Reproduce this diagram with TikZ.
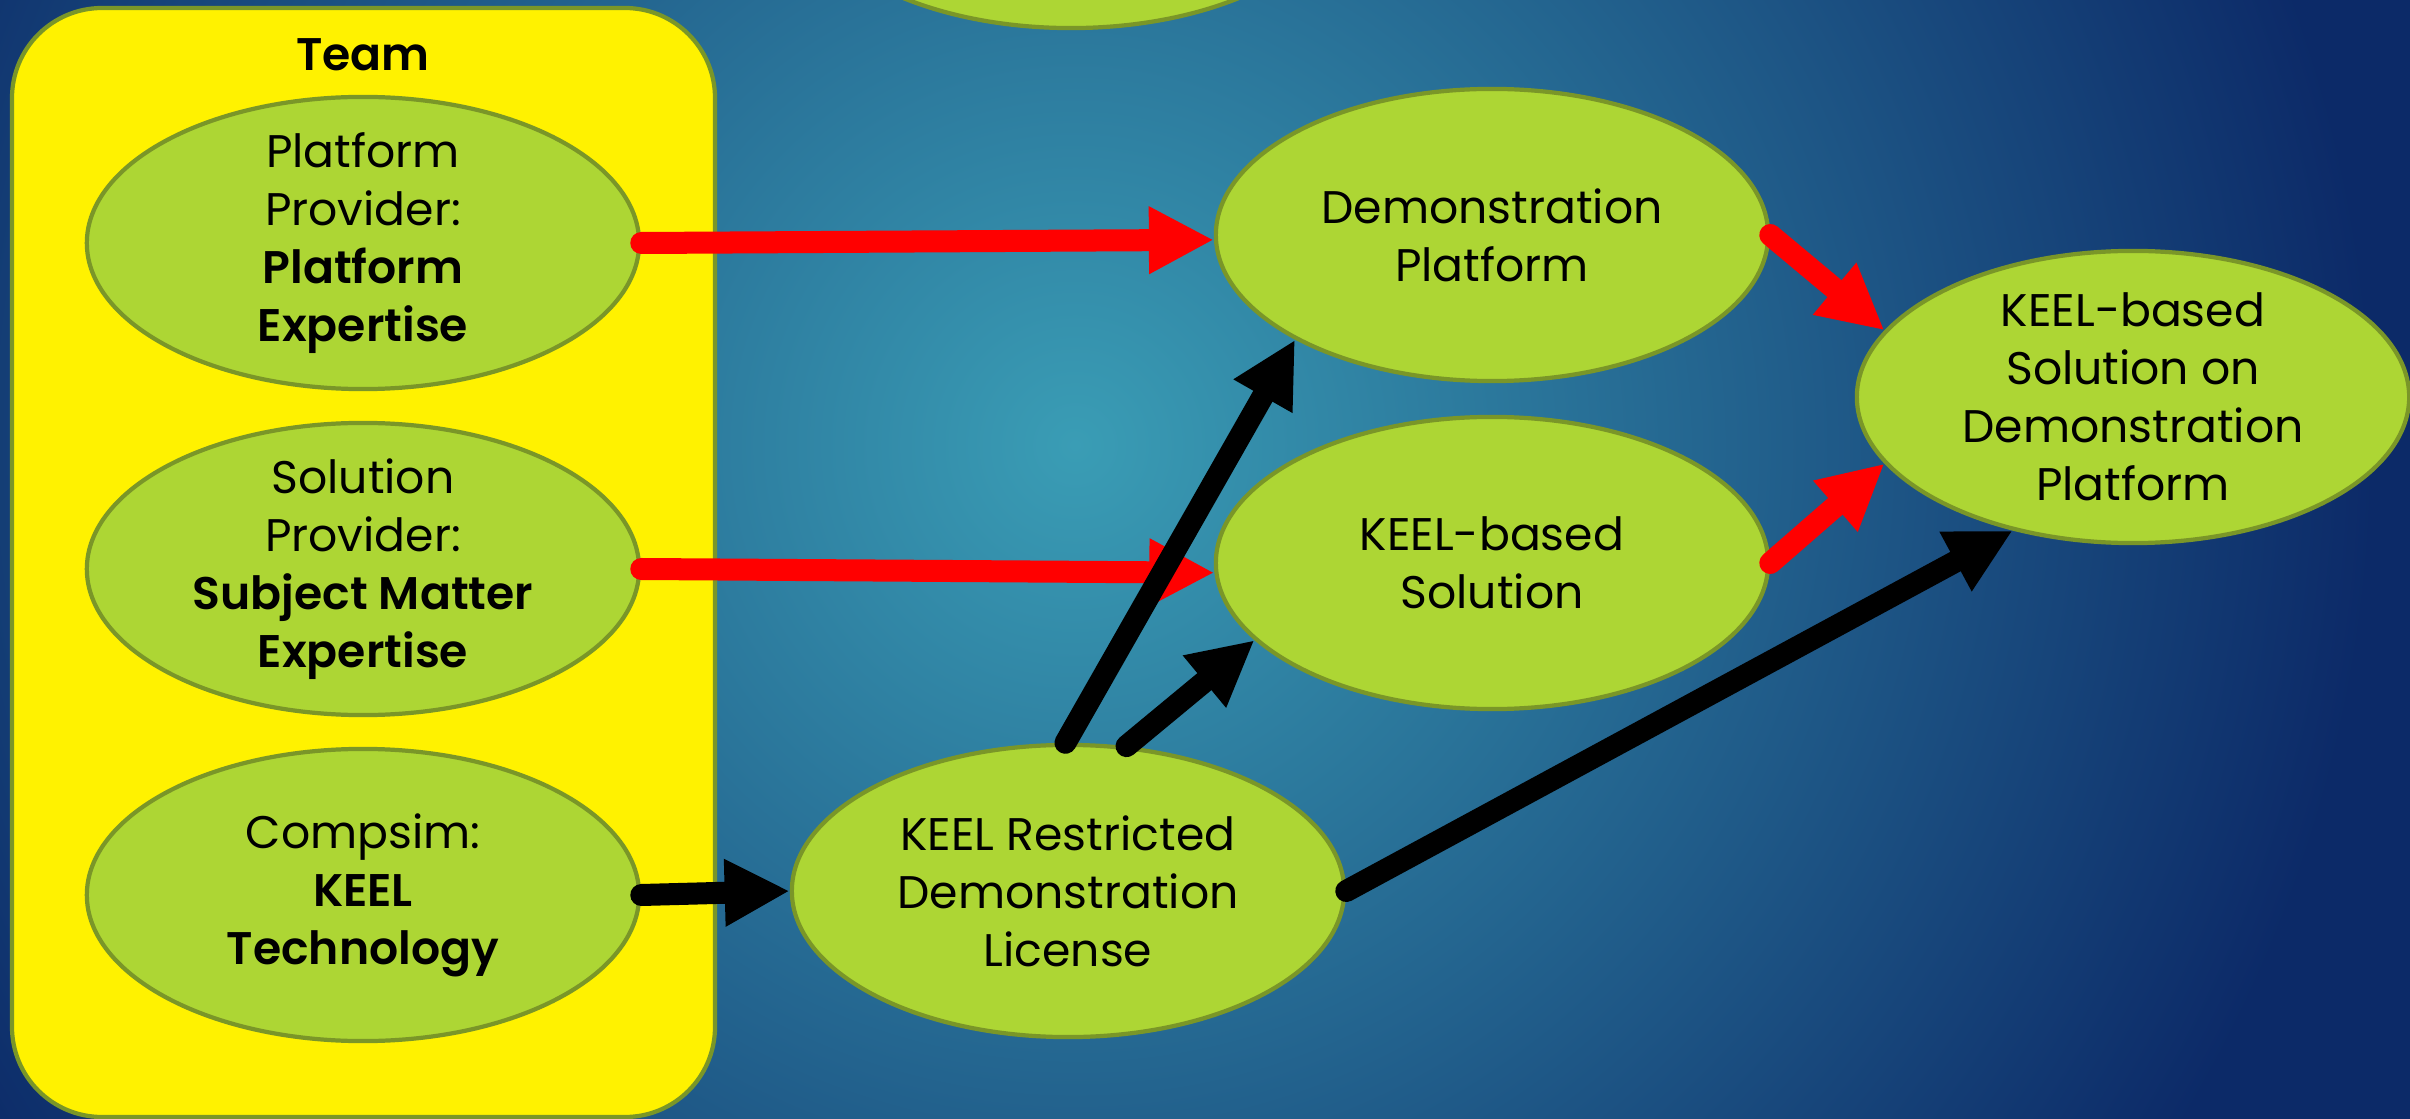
\documentclass[tikz,border=0pt]{standalone}
\usepackage{fontspec}
\setmainfont{Poppins}[BoldFont={Poppins SemiBold}]
\usetikzlibrary{arrows.meta,shapes.geometric}
\definecolor{bgin}{RGB}{58,157,181}
\definecolor{bgout}{RGB}{12,42,104}
\definecolor{leaf}{RGB}{173,214,52}
\definecolor{olive}{RGB}{122,150,40}
\tikzset{
  blob/.style={ellipse, draw=olive, line width=1.2pt, fill=leaf, minimum width=5.52cm,
    minimum height=2.92cm, inner xsep=0pt, inner ysep=-0.12cm, align=center,
    font=\fontsize{13pt}{16.5pt}\selectfont},
  redarrow/.style={draw=red, line width=0.22cm, line cap=round, -{Triangle[length=0.65cm,width=0.63cm]}},
  blackarrow/.style={redarrow, draw=black}
}
\begin{document}
\begin{tikzpicture}[x=0.01cm, y=-0.01cm]
        \useasboundingbox (0,0) rectangle (2410,1119);
        \clip (0,0) rectangle (2410,1119);
        % Background
        \fill[bgout] (0,0) rectangle (2410,1119);
        \shade[inner color=bgin, outer color=bgout] (-225,-855) rectangle (2375,1745);

        % Draw the team box
        \draw[draw=olive, line width=1.2pt, fill=yellow, rounded corners=0.9cm] (12,8) rectangle (715,1117);
        \node[font=\bfseries\fontsize{13pt}{16pt}\selectfont] (team) at (363,55) {Team};
        \node[blob] (plat) at (363,243) {Platform\\Provider:\\\textbf{Platform}\\\textbf{Expertise}};
        \node[blob] (solprov) at (363,569) {Solution\\Provider:\\\textbf{Subject Matter}\\\textbf{Expertise}};
        \node[blob] (comp) at (363,895) {Compsim:\\\textbf{KEEL}\\\textbf{Technology}};

        % Draw the results
        \node[blob] (top) at (1071,-118) {};
        \node[blob] (demo) at (1492,235) {Demonstration\\Platform};
        \node[blob] (sol) at (1492,563) {KEEL-based\\Solution};
        \node[blob] (lic) at (1068,891) {KEEL Restricted\\Demonstration\\License};
        \node[blob] (fin) at (2133,397) {KEEL-based\\Solution on\\Demonstration\\Platform};

        % Red arrows
        \draw[redarrow] (plat.east) -- (demo.181);
        \draw[redarrow] (solprov.east) -- (sol.182);
        \draw[redarrow] (demo.east) -- (fin.165);
        \draw[redarrow] (sol.east) -- (fin.195);

        % Black arrows
        \draw[blackarrow] (comp.east) -- (lic.west);
        \draw[blackarrow] (lic.91) -- (demo.208);
        \draw[blackarrow] (lic.68) -- (sol.198);
        \draw[blackarrow] (lic.east) -- (fin.228);
    \end{tikzpicture}
\end{document}
